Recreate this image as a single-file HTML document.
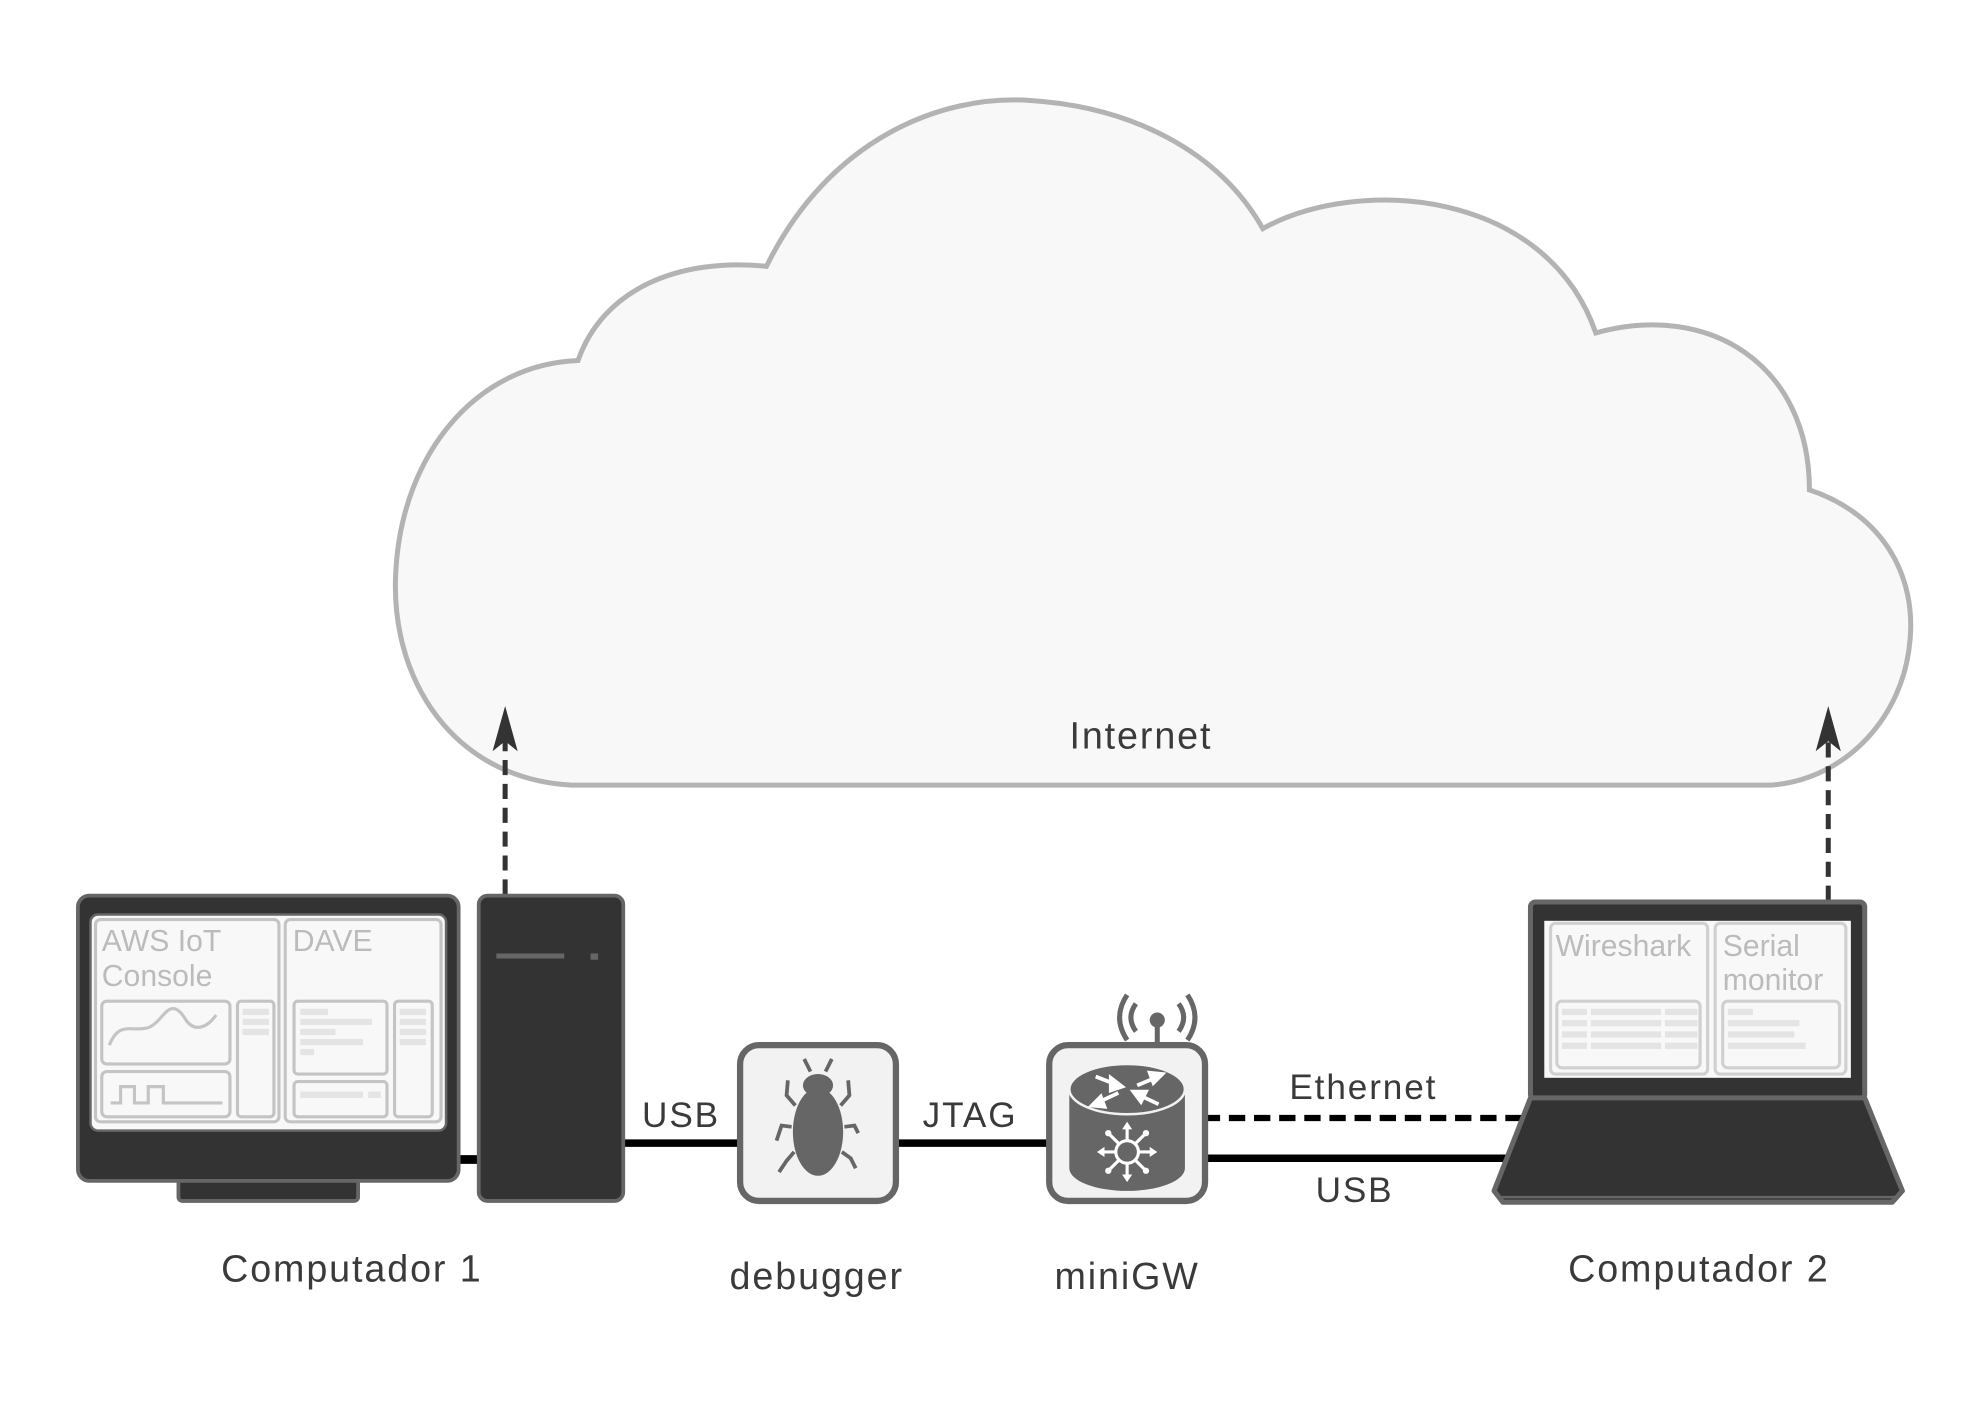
<!DOCTYPE html>
<html><head><meta charset="utf-8"><style>
html,body{margin:0;padding:0;background:#fff;}
svg{display:block;}
text{font-family:"Liberation Sans","DejaVu Sans",sans-serif;}
.lbl{letter-spacing:1.5px;}
</style></head><body>
<svg width="1969" height="1417" viewBox="0 0 1567 1128" preserveAspectRatio="none" xmlns="http://www.w3.org/2000/svg">
<rect width="1567" height="1128" fill="#fff"/>
<path d="M455,625 C360,620 310,540 315,455 C320,360 380,290 460,287 C480,230 540,205 610,212 C660,110 750,75 820,80 C900,85 970,120 1005,182 C1080,140 1230,150 1270,265 C1360,240 1440,290 1440,390 C1500,410 1525,460 1520,510 C1515,570 1470,620 1410,625 Z" fill="#f8f8f8" stroke="#b3b3b3" stroke-width="4"/>
<text class="lbl" x="908" y="596" font-size="30" fill="#3a3a3a" text-anchor="middle">Internet</text>
<line x1="402" y1="712" x2="402" y2="585" stroke="#333" stroke-width="4" stroke-dasharray="12,7"/>
<path d="M402,562 L392,598 L402,590 L412,598 Z" fill="#333"/>
<line x1="1455" y1="717" x2="1455" y2="585" stroke="#333" stroke-width="4" stroke-dasharray="12,7"/>
<path d="M1455,562 L1445,598 L1455,590 L1465,598 Z" fill="#333"/>
<line x1="362" y1="923" x2="384" y2="923" stroke="#000" stroke-width="7"/>
<line x1="494" y1="910" x2="590" y2="910" stroke="#000" stroke-width="6"/>
<line x1="711" y1="910" x2="837" y2="910" stroke="#000" stroke-width="6"/>
<line x1="958" y1="890" x2="1215" y2="890" stroke="#000" stroke-width="5" stroke-dasharray="13,7"/>
<line x1="958" y1="922" x2="1202" y2="922" stroke="#000" stroke-width="6"/>
<text class="lbl" x="542" y="897" font-size="28" fill="#3a3a3a" text-anchor="middle">USB</text>
<text class="lbl" x="772" y="897" font-size="28" fill="#3a3a3a" text-anchor="middle">JTAG</text>
<text class="lbl" x="1085" y="875" font-size="28" fill="#3a3a3a" text-anchor="middle">Ethernet</text>
<text class="lbl" x="1078" y="957" font-size="28" fill="#3a3a3a" text-anchor="middle">USB</text>
<rect x="142" y="936" width="143" height="20" rx="3" fill="#333" stroke="#666" stroke-width="3"/>
<rect x="62" y="713" width="303" height="227" rx="9" fill="#333" stroke="#666" stroke-width="3"/>
<rect x="72" y="728" width="283" height="172" rx="6" fill="#f8f8f8" stroke="#666" stroke-width="2"/>
<g fill="none" stroke="#c4c4c4" stroke-width="2.5">
<rect x="76" y="732" width="146" height="161" rx="4"/>
<rect x="227" y="732" width="124" height="161" rx="4"/>
<rect x="81" y="797" width="102" height="50" rx="4"/>
<rect x="81" y="853" width="102" height="36" rx="4"/>
<rect x="189" y="797" width="29" height="92" rx="3"/>
<rect x="234" y="797" width="74" height="58" rx="3"/>
<rect x="234" y="861" width="74" height="28" rx="3"/>
<rect x="314" y="797" width="30" height="92" rx="3"/>
<path d="M87,832 C95,812 105,822 118,818 C130,814 135,790 148,812 C155,822 165,818 172,808"/>
<path d="M88,878 H96 V865 H107 V878 H118 V865 H130 V878 H177"/>
</g>
<g fill="#e4e4e4">
<rect x="193" y="803" width="21" height="5"/><rect x="193" y="811" width="21" height="5"/><rect x="193" y="819" width="21" height="5"/>
<rect x="318" y="803" width="21" height="5"/><rect x="318" y="811" width="21" height="5"/><rect x="318" y="819" width="21" height="5"/><rect x="318" y="827" width="21" height="5"/>
<rect x="239" y="803" width="22" height="5"/><rect x="239" y="811" width="57" height="5"/><rect x="239" y="819" width="28" height="5"/><rect x="239" y="827" width="50" height="5"/><rect x="239" y="835" width="11" height="5"/>
<rect x="239" y="869" width="50" height="5"/><rect x="293" y="869" width="10" height="5"/>
</g>
<text x="81" y="757" font-size="24" fill="#bbb">AWS IoT</text>
<text x="81" y="785" font-size="24" fill="#bbb">Console</text>
<text x="233" y="757" font-size="24" fill="#bbb">DAVE</text>
<rect x="381" y="713" width="115" height="243" rx="7" fill="#333" stroke="#666" stroke-width="3"/>
<rect x="395" y="759" width="54" height="4" fill="#666"/>
<rect x="470" y="759" width="6" height="5" fill="#666"/>
<rect x="589" y="832" width="124" height="124" rx="15" fill="#f2f2f2" stroke="#666" stroke-width="5"/>
<g fill="#666">
<ellipse cx="651" cy="901" rx="20" ry="35"/>
<ellipse cx="651" cy="864" rx="12" ry="9"/>
</g>
<g stroke="#666" stroke-width="3" fill="none">
<path d="M645,853 L640,843 M657,853 L662,843"/>
<path d="M633,880 L626,872 L627,860"/>
<path d="M669,880 L676,872 L675,860"/>
<path d="M630,897 L622,896 L618,908"/>
<path d="M672,897 L680,896 L683,902"/>
<path d="M632,917 L626,924 L620,933"/>
<path d="M670,917 L677,922 L681,930"/>
</g>
<g fill="none" stroke="#666" stroke-width="4">
<path d="M897,792 Q885,810 897,828"/><path d="M904,799 Q896,810 904,821"/>
<path d="M945,792 Q957,810 945,828"/><path d="M938,799 Q946,810 938,821"/>
<line x1="921" y1="814" x2="921" y2="834"/>
</g>
<circle cx="921" cy="812" r="6" fill="#666"/>
<rect x="835" y="832" width="124" height="124" rx="15" fill="#f2f2f2" stroke="#666" stroke-width="5"/>
<path d="M851,867 L851,930 A46,18 0 0 0 943,930 L943,867 Z" fill="#666"/>
<ellipse cx="897" cy="867" rx="46" ry="20" fill="#666" stroke="#f2f2f2" stroke-width="2"/>
<g stroke="#fff" stroke-width="3" fill="#fff">
<line x1="872" y1="857" x2="890" y2="864"/><path d="M893,865 L884,858 L884,868 Z"/>
<line x1="922" y1="857" x2="905" y2="864"/><path d="M925,855 L915,854 L918,862 Z"/>
<line x1="890" y1="870" x2="873" y2="878"/><path d="M869,880 L879,881 L876,873 Z"/>
<line x1="922" y1="879" x2="905" y2="871"/><path d="M902,869 L908,877 L912,869 Z"/>
</g>
<g stroke="#fff" stroke-width="2.5" fill="none">
<circle cx="897" cy="917" r="9"/>
<line x1="897" y1="897" x2="897" y2="908"/><line x1="897" y1="926" x2="897" y2="937"/>
<line x1="877" y1="917" x2="888" y2="917"/><line x1="906" y1="917" x2="917" y2="917"/>
<line x1="883" y1="903" x2="890" y2="910"/><line x1="904" y1="924" x2="911" y2="931"/>
<line x1="911" y1="903" x2="904" y2="910"/><line x1="890" y1="924" x2="883" y2="931"/>
</g>
<g fill="#fff">
<path d="M897,893 L893,899 L901,899 Z"/><path d="M897,941 L893,935 L901,935 Z"/>
<path d="M873,917 L879,913 L879,921 Z"/><path d="M921,917 L915,913 L915,921 Z"/>
<circle cx="882" cy="902" r="2.5"/><circle cx="912" cy="902" r="2.5"/><circle cx="882" cy="932" r="2.5"/><circle cx="912" cy="932" r="2.5"/>
</g>
<rect x="1218" y="718" width="266" height="157" rx="4" fill="#333" stroke="#666" stroke-width="4"/>
<rect x="1229" y="733" width="244" height="125" fill="#f8f8f8"/>
<path d="M1218,874 L1484,874 L1514,948 L1506,957 L1196,957 L1189,948 Z" fill="#333" stroke="#666" stroke-width="4" stroke-linejoin="round"/>
<line x1="1194" y1="953" x2="1508" y2="953" stroke="#666" stroke-width="2"/>
<g fill="none" stroke="#d0d0d0" stroke-width="2.5">
<rect x="1234" y="735" width="125" height="120" rx="4"/>
<rect x="1365" y="735" width="104" height="120" rx="4"/>
<rect x="1239" y="797" width="114" height="53" rx="4"/>
<rect x="1371" y="797" width="93" height="53" rx="4"/>
</g>
<g fill="#e4e4e4">
<rect x="1243" y="803" width="20" height="5"/><rect x="1266" y="803" width="56" height="5"/><rect x="1325" y="803" width="26" height="5"/>
<rect x="1243" y="812" width="20" height="5"/><rect x="1266" y="812" width="56" height="5"/><rect x="1325" y="812" width="26" height="5"/>
<rect x="1243" y="821" width="20" height="5"/><rect x="1266" y="821" width="56" height="5"/><rect x="1325" y="821" width="26" height="5"/>
<rect x="1243" y="830" width="20" height="5"/><rect x="1266" y="830" width="56" height="5"/><rect x="1325" y="830" width="26" height="5"/>
<rect x="1375" y="803" width="20" height="5"/><rect x="1375" y="812" width="57" height="5"/><rect x="1375" y="821" width="53" height="5"/><rect x="1375" y="830" width="62" height="5"/>
</g>
<text x="1238" y="761" font-size="24" fill="#bbb">Wireshark</text>
<text x="1371" y="761" font-size="24" fill="#bbb">Serial</text>
<text x="1371" y="788" font-size="24" fill="#bbb">monitor</text>
<text class="lbl" x="280" y="1020" font-size="30" fill="#3a3a3a" text-anchor="middle">Computador 1</text>
<text class="lbl" x="650" y="1026" font-size="30" fill="#3a3a3a" text-anchor="middle">debugger</text>
<text class="lbl" x="897" y="1026" font-size="30" fill="#3a3a3a" text-anchor="middle">miniGW</text>
<text class="lbl" x="1352" y="1020" font-size="30" fill="#3a3a3a" text-anchor="middle">Computador 2</text>
</svg>
</body></html>
